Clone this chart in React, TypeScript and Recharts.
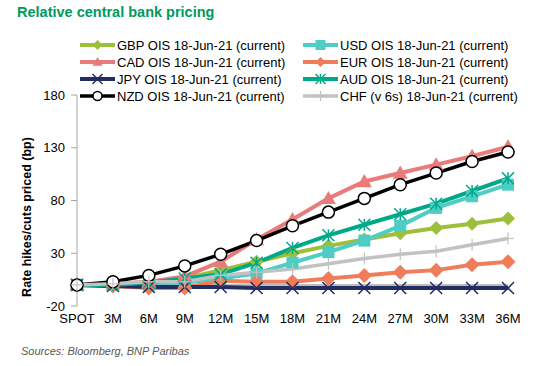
import React from "react";
import { LineChart, Line, XAxis, YAxis, ReferenceLine } from "recharts";

const categories = ["SPOT", "3M", "6M", "9M", "12M", "15M", "18M", "21M", "24M", "27M", "30M", "33M", "36M"];
const gbp = [0, 0, 2, 6, 14, 22, 30, 37, 43, 49, 54, 58, 63];
const usd = [0, 0, 0, 2, 6, 11, 21, 31, 42, 56, 73, 84, 95];
const cad = [0, 1, 3, 8, 22, 43, 62, 82, 98, 106, 114, 122, 131];
const eur = [0, -1, -3, -3, 4, 3, 3, 6, 9, 12, 14, 19, 22];
const jpy = [0, -1, -2, -2, -2, -3, -3, -3, -3, -3, -3, -3, -3];
const aud = [0, 0, 2, 6, 10, 21, 35, 47, 57, 67, 77, 89, 101];
const nzd = [0, 3, 9, 18, 29, 42, 56, 69, 82, 95, 106, 117, 126];
const chf = [0, 1, 3, 3, 9, 12, 15, 20, 25, 29, 32, 38, 44];
const yTicks = [-20, 30, 80, 130, 180];

type Shape = "diamond" | "square" | "triangle" | "x" | "star" | "circle" | "plus";
interface Series { key: string; name: string; color: string; width: number; shape: Shape; size: number; }

const series: Series[] = [
  { key: "gbp", name: "GBP OIS 18-Jun-21 (current)", color: "#9DC03A", width: 4, shape: "diamond", size: 7 },
  { key: "usd", name: "USD OIS 18-Jun-21 (current)", color: "#4ECDC4", width: 4, shape: "square", size: 6 },
  { key: "cad", name: "CAD OIS 18-Jun-21 (current)", color: "#E97B7B", width: 4, shape: "triangle", size: 7.5 },
  { key: "eur", name: "EUR OIS 18-Jun-21 (current)", color: "#F07D5A", width: 4, shape: "diamond", size: 7.5 },
  { key: "jpy", name: "JPY OIS 18-Jun-21 (current)", color: "#222D63", width: 4, shape: "x", size: 6 },
  { key: "aud", name: "AUD OIS 18-Jun-21 (current)", color: "#00A88A", width: 4, shape: "star", size: 6 },
  { key: "nzd", name: "NZD OIS 18-Jun-21 (current)", color: "#000000", width: 3.5, shape: "circle", size: 6 },
  { key: "chf", name: "CHF (v 6s) 18-Jun-21 (current)", color: "#C2C2C2", width: 3.5, shape: "plus", size: 6 },
];

const values: Record<string, number[]> = { gbp, usd, cad, eur, jpy, aud, nzd, chf };

const data = categories.map((cat, i) => {
  const row: Record<string, string | number> = { cat };
  Object.keys(values).forEach((k) => (row[k] = values[k][i]));
  return row;
});

function Marker({ cx, cy, s }: { cx: number; cy: number; s: Series }) {
  const r = s.size;
  const c = s.color;
  switch (s.shape) {
    case "diamond":
      return <polygon points={`${cx},${cy - r} ${cx + r},${cy} ${cx},${cy + r} ${cx - r},${cy}`} fill={c} />;
    case "square":
      return <rect x={cx - r} y={cy - r} width={2 * r} height={2 * r} fill={c} />;
    case "triangle":
      return <polygon points={`${cx},${cy - r} ${cx + r},${cy + r * 0.75} ${cx - r},${cy + r * 0.75}`} fill={c} />;
    case "x":
      return (
        <g stroke={c} strokeWidth={1.5}>
          <line x1={cx - r} y1={cy - r} x2={cx + r} y2={cy + r} />
          <line x1={cx - r} y1={cy + r} x2={cx + r} y2={cy - r} />
        </g>
      );
    case "star":
      return (
        <g stroke={c} strokeWidth={1.5}>
          <line x1={cx - r} y1={cy - r} x2={cx + r} y2={cy + r} />
          <line x1={cx - r} y1={cy + r} x2={cx + r} y2={cy - r} />
          <line x1={cx} y1={cy - r} x2={cx} y2={cy + r} />
        </g>
      );
    case "plus":
      return (
        <g stroke={c} strokeWidth={1.2}>
          <line x1={cx - r} y1={cy} x2={cx + r} y2={cy} />
          <line x1={cx} y1={cy - r} x2={cx} y2={cy + r} />
        </g>
      );
    case "circle":
    default:
      return <circle cx={cx} cy={cy} r={r} fill="#fff" stroke={c} strokeWidth={1.5} />;
  }
}

const makeDot = (s: Series) => (props: any) => {
  const { cx, cy, index } = props;
  if (cx == null || cy == null) return <g key={`${s.key}-${index}`} />;
  return (
    <g key={`${s.key}-${index}`}>
      <Marker cx={cx} cy={cy} s={s} />
    </g>
  );
};

const FONT = "'Liberation Sans', Arial, Helvetica, sans-serif";

function LegendOverlay() {
  const rows = [45, 62, 79, 96];
  const cols = [{ lx: 80, tx: 117 }, { lx: 303, tx: 340 }];
  return (
    <svg width={536} height={110} style={{ position: "absolute", left: 0, top: 0 }}>
      {series.map((s, i) => {
        const col = cols[i % 2];
        const y = rows[Math.floor(i / 2)];
        const mid = col.lx + 17.5;
        const ms: Series = { ...s, size: s.shape === "circle" ? 4.5 : Math.min(s.size, 5) };
        return (
          <g key={s.key}>
            <line x1={col.lx} y1={y} x2={col.lx + 35} y2={y} stroke={s.color} strokeWidth={s.width} />
            <Marker cx={mid} cy={y} s={ms} />
            <text x={col.tx} y={y} dominantBaseline="central" fontSize={13} fontFamily={FONT} fill="#000">
              {s.name}
            </text>
          </g>
        );
      })}
    </svg>
  );
}

export default function App() {
  return (
    <div style={{ position: "absolute", left: 0, top: 0, width: 536, height: 366, background: "#fff", fontFamily: FONT }}>
      <div style={{ position: "absolute", left: 17, top: 4, fontSize: 14.5, fontWeight: "bold", color: "#00995E", whiteSpace: "nowrap" }}>
        Relative central bank pricing
      </div>
      <LineChart width={536} height={366} data={data} margin={{ top: 95, right: 28, bottom: 30, left: 17 }}>
        <ReferenceLine y={0} stroke="#A6A6A6" strokeWidth={1.5} />
        <XAxis
          dataKey="cat"
          axisLine={false}
          tickLine={false}
          interval={0}
          height={30}
          tick={{ fontSize: 13, fill: "#000", fontFamily: FONT }}
        />
        <YAxis
          domain={[-20, 180]}
          ticks={yTicks}
          width={60}
          axisLine={{ stroke: "#A6A6A6" }}
          tickLine={{ stroke: "#A6A6A6" }}
          tickSize={6}
          tickMargin={6}
          tick={{ fontSize: 13, fill: "#000", fontFamily: FONT }}
        />
        {series.map((s) => (
          <Line
            key={s.key}
            dataKey={s.key}
            name={s.name}
            stroke={s.color}
            strokeWidth={s.width}
            type="linear"
            dot={makeDot(s)}
            activeDot={false}
            isAnimationActive={false}
          />
        ))}
      </LineChart>
      <LegendOverlay />
      <svg width={60} height={366} style={{ position: "absolute", left: 0, top: 0 }}>
        <text
          transform="translate(27,217) rotate(-90)"
          textAnchor="middle"
          dominantBaseline="central"
          fontSize={12.5}
          fontWeight="bold"
          fontFamily={FONT}
          fill="#000"
        >
          Rate hikes/cuts priced (bp)
        </text>
      </svg>
      <div style={{ position: "absolute", left: 21, top: 345, fontSize: 11, fontStyle: "italic", color: "#595959", whiteSpace: "nowrap" }}>
        Sources: Bloomberg, BNP Paribas
      </div>
    </div>
  );
}
